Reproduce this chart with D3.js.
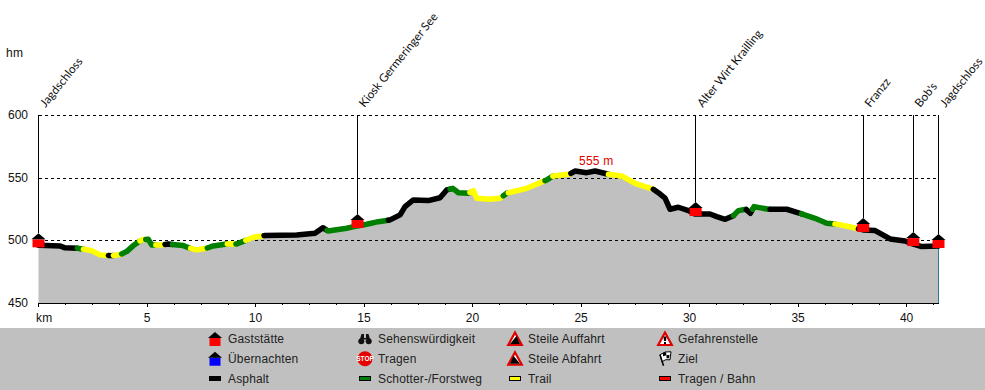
<!DOCTYPE html>
<html>
<head>
<meta charset="utf-8">
<style>
  html, body { margin: 0; padding: 0; background: #fff; }
  svg { display: block; }
  text { font-family: "Liberation Sans", Arial, sans-serif; font-size: 12px; fill: #111; }
</style>
</head>
<body>
<svg id="chart" width="985" height="390"></svg>
<script src="https://cdn.jsdelivr.net/npm/d3@7"></script>
<script>
// profile
const distanceKm = [0, 1, 1.22, 1.79, 2.07, 2.45, 2.83, 3.37, 3.76, 4.06, 4.37, 4.75, 5.06, 5.22, 5.6, 5.98, 6.67, 6.98, 7.29, 7.75, 8.05, 8.67, 9.13, 9.52, 9.9, 10.44, 11.9, 12.74, 13.1, 13.35, 14.2, 14.69, 15.12, 15.66, 16.2, 16.66, 16.89, 17.27, 17.96, 18.5, 18.81, 19.09, 19.35, 19.81, 20.04, 20.19, 20.81, 21.27, 21.58, 22.5, 23.42, 23.72, 24.49, 24.72, 25.26, 25.65, 26.26, 26.87, 27.49, 28.33, 28.56, 28.87, 29.1, 29.48, 29.95, 30.25, 30.94, 31.25, 31.64, 32.02, 32.25, 32.6, 32.8, 32.97, 33.63, 34.48, 35.09, 35.78, 36.32, 36.7, 37.32, 38, 38.55, 39.24, 39.93, 40.31, 40.7, 41.47];
const elevation = [496, 495.5, 494, 493.7, 492.9, 491.8, 488.4, 487.8, 488.6, 491, 495.8, 500.3, 500.8, 496.3, 496.3, 497, 495.8, 493.7, 492.4, 493.7, 495.5, 497.1, 497.1, 499.8, 502.5, 503.8, 504.3, 505.7, 510.1, 507.5, 509.6, 511.5, 512.8, 514.9, 516.3, 520.3, 526.9, 532.2, 531.7, 534, 540.2, 541.5, 538, 537.6, 539.6, 533.6, 532.8, 533.6, 537.6, 541.5, 548.2, 551.4, 553, 555.3, 554, 555.3, 552.7, 551.4, 545.5, 540.7, 538, 533.6, 524.8, 526.4, 523.7, 521, 521, 518.9, 516.8, 519.7, 523.7, 524.8, 521.6, 526.9, 524.8, 524.8, 521.6, 517.6, 513.6, 513.1, 511, 508.3, 507.8, 501.1, 499.5, 497, 495, 495.5];

// surface stretches: type and the km where each one ends
const surfaceType = ['asphalt', 'gravel', 'trail', 'asphalt', 'trail', 'gravel', 'trail', 'gravel', 'trail', 'asphalt', 'gravel', 'trail', 'gravel', 'trail', 'gravel', 'trail', 'asphalt', 'gravel', 'asphalt', 'gravel', 'trail', 'gravel', 'trail', 'gravel', 'trail', 'asphalt', 'trail', 'asphalt', 'gravel', 'asphalt', 'gravel', 'asphalt', 'gravel', 'trail', 'asphalt'];
const surfaceEnd = [1.79, 2.07, 3.22, 3.45, 3.83, 4.68, 4.94, 5.41, 5.83, 6.17, 7.01, 7.78, 8.7, 9.1, 9.55, 10.39, 13.3, 16.12, 18.96, 19.88, 21.42, 21.65, 23.34, 23.7, 24.53, 26.26, 28.33, 32.02, 32.62, 32.9, 33.71, 35.16, 36.7, 37.78, 41.47];
const surfaceColor = { asphalt: '#000000', gravel: '#008000', trail: '#ffff00' };

// waypoints
const stopNames = ['Jagdschloss', 'Kiosk Germeringer See', 'Alter Wirt Krailling', 'Franzz', "Bob's", 'Jagdschloss'];
const stopKm = [0, 14.7, 30.28, 38, 40.31, 41.47];

const yTicks = [600, 550, 500, 450];
const gridTicks = [600, 550, 500];
const xMajor = [5, 10, 15, 20, 25, 30, 35, 40];
const xMinor = [0, 1.25, 2.5, 3.75, 5, 6.25, 7.5, 8.75, 10, 11.25, 12.5, 13.75, 15, 16.25, 17.5, 18.75, 20, 21.25, 22.5, 23.75, 25, 26.25, 27.5, 28.75, 30, 31.25, 32.5, 33.75, 35, 36.25, 37.5, 38.75, 40, 41.25];

const legendLabels = [
  ['Gaststätte', 'Übernachten', 'Asphalt'],
  ['Sehenswürdigkeit', 'Tragen', 'Schotter-/Forstweg'],
  ['Steile Auffahrt', 'Steile Abfahrt', 'Trail'],
  ['Gefahrenstelle', 'Ziel', 'Tragen / Bahn']
];
const legendIcons = [
  ['houseRed', 'houseBlue', 'barBlack'],
  ['binoculars', 'stop', 'barGreen'],
  ['up', 'down', 'barYellow'],
  ['danger', 'flag', 'barRed']
];

const x = d3.scaleLinear().domain([0, 41.47]).range([38.5, 938.5]);
const y = d3.scaleLinear().domain([450, 600]).range([303, 115]);
const svg = d3.select('#chart');
const profile = distanceKm.map(function (d, i) { return [d, elevation[i]]; });
const heightAt = d3.scaleLinear().domain(distanceKm).range(elevation);

// area
svg.append('path')
  .datum(profile)
  .attr('fill', '#c0c0c0')
  .attr('d', d3.area().x(function (d) { return x(d[0]); }).y0(y(450)).y1(function (d) { return y(d[1]); }));

// grid and axes
const crisp = svg.append('g').attr('shape-rendering', 'crispEdges');

crisp.selectAll('line.grid')
  .data(gridTicks)
  .join('line')
  .attr('class', 'grid')
  .attr('x1', x(0)).attr('x2', x(41.47))
  .attr('y1', function (d) { return Math.round(y(d)); })
  .attr('y2', function (d) { return Math.round(y(d)); })
  .attr('stroke', '#000')
  .attr('stroke-dasharray', '3 3');

crisp.append('line').attr('x1', x(0)).attr('x2', x(41.47)).attr('y1', y(450)).attr('y2', y(450)).attr('stroke', '#000');
crisp.append('line').attr('x1', x(41.47)).attr('x2', x(41.47)).attr('y1', y(495.5)).attr('y2', y(450)).attr('stroke', '#2a7f8f');

crisp.selectAll('line.minor')
  .data(xMinor)
  .join('line')
  .attr('class', 'minor')
  .attr('x1', function (d) { return x(d); }).attr('x2', function (d) { return x(d); })
  .attr('y1', y(450)).attr('y2', y(450) + 2)
  .attr('stroke', '#000');

crisp.selectAll('line.major')
  .data([0].concat(xMajor))
  .join('line')
  .attr('class', 'major')
  .attr('x1', function (d) { return x(d); }).attr('x2', function (d) { return x(d); })
  .attr('y1', y(450)).attr('y2', y(450) + 4)
  .attr('stroke', '#000');

svg.selectAll('text.ytick')
  .data(yTicks)
  .join('text')
  .attr('class', 'ytick')
  .attr('x', 28)
  .attr('y', function (d) { return y(d) + 4; })
  .attr('text-anchor', 'end')
  .text(function (d) { return d; });

svg.selectAll('text.xtick')
  .data(xMajor)
  .join('text')
  .attr('class', 'xtick')
  .attr('x', function (d) { return x(d); })
  .attr('y', 322)
  .attr('text-anchor', 'middle')
  .text(function (d) { return d; });

svg.append('text').attr('x', 36).attr('y', 322).style('letter-spacing', '0.3px').text('km');
svg.append('text').attr('x', 6).attr('y', 57).style('letter-spacing', '0.3px').text('hm');
svg.append('text').attr('x', x(25.7)).attr('y', 165).attr('text-anchor', 'middle').style('fill', '#e00000').style('letter-spacing', '0.2px').text('555 m');

// surface line, one path per stretch
const line = d3.line().x(function (d) { return x(d[0]); }).y(function (d) { return y(d[1]); });
let from = 0;
surfaceType.forEach(function (type, i) {
  const to = surfaceEnd[i];
  const pts = [[from, heightAt(from)]]
    .concat(profile.filter(function (p) { return p[0] > from && p[0] < to; }))
    .concat([[to, heightAt(to)]]);
  svg.append('path')
    .attr('d', line(pts))
    .attr('fill', 'none')
    .attr('stroke', surfaceColor[type])
    .attr('stroke-width', 5.5)
    .attr('stroke-linecap', 'round')
    .attr('stroke-linejoin', 'round');
  from = to;
});

// stems, house markers, rotated names
const stops = svg.append('g').selectAll('g')
  .data(stopKm)
  .join('g')
  .attr('transform', function (d) { return 'translate(' + x(d) + ',' + y(heightAt(d)) + ')'; });

stops.append('line')
  .attr('y1', function (d) { return y(600) - y(heightAt(d)); })
  .attr('y2', -12)
  .attr('stroke', '#000')
  .attr('shape-rendering', 'crispEdges');

stops.each(function () {
  const g = d3.select(this).append('g').attr('transform', 'translate(0,-5)');
  g.append('rect').attr('x', -6).attr('y', -1).attr('width', 12).attr('height', 8).attr('fill', '#ff0000');
  g.append('path').attr('d', 'M-7,-1 L0,-7 L7,-1 Z').attr('fill', '#000');
});

svg.selectAll('text.stop')
  .data(stopNames)
  .join('text')
  .attr('class', 'stop')
  .attr('transform', function (d, i) { return 'translate(' + (x(stopKm[i]) + 7) + ',108) rotate(-51)'; })
  .style('font-family', 'Lato, "Open Sans", sans-serif')
  .style('font-size', '11.7px')
  .text(function (d) { return d; });

// legend
svg.append('rect').attr('x', 0).attr('y', 328).attr('width', 985).attr('height', 62).attr('fill', '#c0c0c0');

const legendX = d3.scalePoint().domain(d3.range(4)).range([215, 665]);
const legendY = d3.scalePoint().domain(d3.range(3)).range([339, 378.5]);

legendLabels.forEach(function (col, c) {
  col.forEach(function (label, r) {
    svg.append('text')
      .attr('x', legendX(c) + 13)
      .attr('y', legendY(r) + 4)
      .style('fill', '#222')
      .style('letter-spacing', '0.15px')
      .text(label);
    drawIcon(svg.append('g').attr('transform', 'translate(' + legendX(c) + ',' + legendY(r) + ')'), legendIcons[c][r]);
  });
});

function drawIcon(g, kind) {
  if (kind === 'houseRed' || kind === 'houseBlue') {
    g.append('rect').attr('x', -5.5).attr('y', -1).attr('width', 11).attr('height', 8)
      .attr('fill', kind === 'houseRed' ? '#ff0000' : '#0000ff');
    g.append('path').attr('d', 'M-7,-1 L0,-7 L7,-1 Z').attr('fill', '#000');
  } else if (kind.indexOf('bar') === 0) {
    const fills = { barBlack: '#000', barGreen: '#008000', barYellow: '#ffff00', barRed: '#ff0000' };
    g.append('rect').attr('x', -5.5).attr('y', -2).attr('width', 11).attr('height', 4)
      .attr('fill', fills[kind]).attr('stroke', '#000').attr('shape-rendering', 'crispEdges');
  } else if (kind === 'binoculars') {
    g.append('path').attr('d', 'M-3.5,-5 L-1,-5 L-1,-1 L1,-1 L1,-5 L3.5,-5 L5,0 L1,0 L0,1 L-1,0 L-5,0 Z').attr('fill', '#111');
    g.append('circle').attr('cx', -3.7).attr('cy', 2.2).attr('r', 3).attr('fill', '#111');
    g.append('circle').attr('cx', 3.7).attr('cy', 2.2).attr('r', 3).attr('fill', '#111');
  } else if (kind === 'stop') {
    g.append('circle').attr('r', 7.5).attr('fill', '#e60000');
    g.append('text').attr('y', 2.5).attr('text-anchor', 'middle')
      .style('font-size', '6.5px').style('font-weight', 'bold').style('fill', '#fff').text('STOP');
  } else if (kind === 'up' || kind === 'down' || kind === 'danger') {
    g.append('path').attr('d', 'M0,-6.5 L6.8,6 L-6.8,6 Z').attr('fill', '#fff').attr('stroke', '#e00000').attr('stroke-width', 2.2);
    if (kind === 'up') {
      g.append('path').attr('d', 'M-5,5 L1.5,-3 L5,5 Z').attr('fill', '#000');
    } else if (kind === 'down') {
      g.append('path').attr('d', 'M5,5 L-1.5,-3 L-5,5 Z').attr('fill', '#000');
    } else {
      g.append('path').attr('d', 'M-1.5,-2.5 L1.5,-2.5 L1,2 L-1,2 Z M-1,3 L1,3 L1,5 L-1,5 Z').attr('fill', '#000');
    }
  } else if (kind === 'flag') {
    g.append('path').attr('d', 'M-5,-4 Q0,-8 6,-7 L5,1 Q0,0 -3,3 Z').attr('fill', '#fff').attr('stroke', '#000');
    g.append('path').attr('d', 'M-2,-6 L1,-6.5 L1.5,-3.5 L4.5,-4 L4,-0.5 L1.5,-0.5 L1.5,-3.5 L-2,-2.5 Z').attr('fill', '#000');
    g.append('path').attr('d', 'M-5,-4 L-1.5,7').attr('stroke', '#000').attr('stroke-width', 1.5);
  }
}
</script>
</body>
</html>
